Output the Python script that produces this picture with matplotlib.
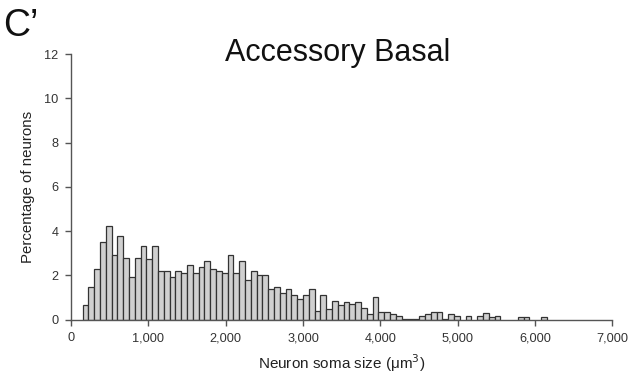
import numpy as np
import matplotlib
matplotlib.use("Agg")
import matplotlib.pyplot as plt
from matplotlib.ticker import FuncFormatter

plt.rcParams['font.family'] = ['Liberation Sans', 'DejaVu Sans']

# ========== Data ==========
# left edges of the 75 um^3 bins (0 .. 6150) and percentage of neurons per bin
BIN_WIDTH = 75
bin_left = np.arange(0, 6150 + 1, BIN_WIDTH)
percent = [
    0, 0, 0.67, 1.46, 2.28, 3.52, 4.25, 2.9, 3.8, 2.8,          # 0 - 675
    1.92, 2.8, 3.34, 2.72, 3.34, 2.22, 2.22, 1.92, 2.22, 2.11,  # 750 - 1425
    2.46, 2.11, 2.39, 2.64, 2.28, 2.22, 2.11, 2.92, 2.11, 2.64,  # 1500 - 2175
    1.77, 2.2, 2.02, 2.02, 1.39, 1.46, 1.2, 1.39, 1.1, 0.95,     # 2250 - 2925
    1.1, 1.39, 0.4, 1.1, 0.49, 0.86, 0.66, 0.78, 0.69, 0.78,     # 3000 - 3675
    0.51, 0.24, 1.04, 0.33, 0.33, 0.24, 0.15, 0.05, 0.05, 0.05,  # 3750 - 4425
    0.15, 0.24, 0.33, 0.33, 0.05, 0.25, 0.15, 0, 0.15, 0,        # 4500 - 5175
    0.15, 0.28, 0.1, 0.18, 0, 0, 0, 0.1, 0.1, 0,                 # 5250 - 5925
    0, 0.1, 0,                                                   # 6000 - 6150
]
percent = np.array(percent[:len(bin_left)])

x_ticks = np.arange(0, 7001, 1000)
y_ticks = np.arange(0, 13, 2)

# ========== Plot ==========
fig = plt.figure(figsize=(6.37, 3.81), dpi=100)
ax = fig.add_axes([0.1115, 0.161, 0.850, 0.697])

mask = percent > 0
ax.bar(bin_left[mask], percent[mask], width=BIN_WIDTH, align='edge',
       color='#d0d0d0', edgecolor='#333333', linewidth=0.9)

ax.set_xlim(0, 7000)
ax.set_ylim(0, 12)
ax.set_xticks(x_ticks)
ax.set_yticks(y_ticks)
ax.xaxis.set_major_formatter(FuncFormatter(lambda v, p: f'{int(v):,}'))

for side in ('top', 'right'):
    ax.spines[side].set_visible(False)
for side in ('left', 'bottom'):
    ax.spines[side].set_color('#555555')
    ax.spines[side].set_linewidth(1.0)
ax.tick_params(colors='#555555', labelcolor='#333333', labelsize=9.2,
               length=4, width=1.0, direction='out', pad=5)

ax.set_xlabel('Neuron soma size (\u03bcm$^3$)', fontsize=11, color='#222222', labelpad=6)
ax.set_ylabel('Percentage of neurons', fontsize=10.8, color='#222222', labelpad=7)

fig.text(0.53, 0.862, 'Accessory Basal', ha='center', va='center',
         fontsize=22, color='#111111')
fig.text(0.005, 0.932, 'C\u2019', ha='left', va='center', fontsize=27, color='#111111')

fig.savefig('out.png', dpi=100)
